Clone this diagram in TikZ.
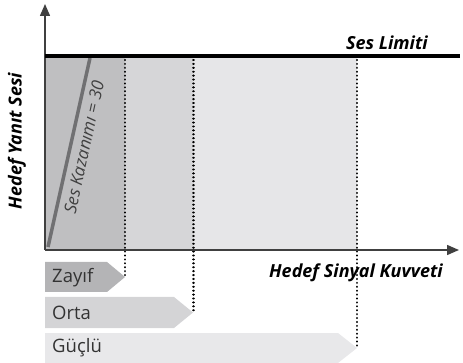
\documentclass[tikz,border=0pt]{standalone}
\usepackage{fontspec}
\setmainfont{Open Sans}
\usetikzlibrary{arrows.meta,calc}
\definecolor{axisc}{RGB}{64,64,64}
\definecolor{zoneA}{RGB}{191,191,193}
\definecolor{zoneB}{RGB}{214,214,216}
\definecolor{zoneC}{RGB}{230,230,232}
\definecolor{bandA}{RGB}{180,180,182}
\definecolor{bandB}{RGB}{212,212,214}
\definecolor{bandC}{RGB}{232,232,234}
\definecolor{gainc}{RGB}{112,112,114}
\tikzset{
  axisline/.style={draw=axisc,line width=1.5pt,-{Triangle[length=12pt,width=10pt]}},
  dotline/.style={draw=black,line width=2.3pt,dash pattern=on 0.01pt off 3.9pt,line cap=round},
  bandtext/.style={anchor=west,font=\fontsize{18.5}{20}\selectfont,text=black!80,inner sep=0pt},
  axlabel/.style={font=\fontsize{18}{20}\selectfont\bfseries\itshape,inner sep=0pt}
}
\begin{document}
\begin{tikzpicture}[x=1pt,y=-1pt]
\useasboundingbox (0,0) rectangle (463,363);
% zones
\fill[zoneA] (45,57) rectangle (125,250);
\fill[zoneB] (125,57) rectangle (193,250);
\fill[zoneC] (193,57) rectangle (357,250);
% gain line
\coordinate (g0) at (48,247);
\coordinate (g1) at (90,58);
\draw[gainc,line width=3.5pt] (g0) -- (g1);
\node[rotate=77.8,font=\fontsize{17}{19}\selectfont\itshape,text=black!75,inner sep=0pt] (gl) at (84,147) {Ses Kazanımı = 30};
% bands
\fill[bandA] (45,262) -- (107,262) -- (125,277) -- (107,292) -- (45,292) -- cycle;
\fill[bandB] (45,297) -- (174,297) -- (193,312.5) -- (174,328) -- (45,328) -- cycle;
\fill[bandC] (45,333) -- (338,333) -- (357,348) -- (338,363) -- (45,363) -- cycle;
\node[bandtext] (zy) at (52,277.5) {Zayıf};
\node[bandtext] (or) at (52,312.5) {Orta};
\node[bandtext] (gc) at (52,348) {Güçlü};
% dotted lines
\coordinate (d1t) at (125,60); \coordinate (d1b) at (125,277);
\coordinate (d2t) at (193.5,60); \coordinate (d2b) at (193.5,313);
\coordinate (d3t) at (357,60); \coordinate (d3b) at (357,348);
\draw[dotline] (d1t) -- (d1b);
\draw[dotline] (d2t) -- (d2b);
\draw[dotline] (d3t) -- (d3b);
% axes
\coordinate (o) at (45,250);
\coordinate (yt) at (45,4);
\coordinate (xr) at (459,250);
\draw[axisline] (o) -- (yt);
\draw[axisline] (o) -- (xr);
% limit line
\coordinate (l0) at (45,56);
\coordinate (l1) at (460,56);
\draw[black,line width=4pt] (l0) -- (l1);
% labels
\node[axlabel,anchor=base east] (sl) at (428,50) {Ses Limiti};
\node[axlabel,anchor=base east] (xl) at (443,277) {Hedef Sinyal Kuvveti};
\node[axlabel,rotate=90] (yl) at (17,141) {Hedef Yanıt Sesi};
\end{tikzpicture}
\end{document}
